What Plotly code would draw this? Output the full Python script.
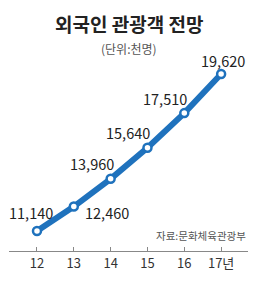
import plotly.graph_objects as go

years = [12, 13, 14, 15, 16, 17]
tick_labels = ["12", "13", "14", "15", "16", "17년"]
visitors = [11140, 12460, 13960, 15640, 17510, 19620]
value_labels = ["11,140", "12,460", "13,960", "15,640", "17,510", "19,620"]
label_pos = ["above", "right", "above-left", "above-left", "above-left", "above"]

FONT = "Noto Sans CJK KR"
BLUE = "#1f72bd"

fig = go.Figure()
fig.add_trace(go.Scatter(
    x=years, y=visitors, mode="lines+markers",
    line=dict(color=BLUE, width=6),
    marker=dict(size=8, color="white", line=dict(color=BLUE, width=2.5)),
    hoverinfo="skip", showlegend=False,
))

for x, y, t, p in zip(years, visitors, value_labels, label_pos):
    if p == "right":
        fig.add_annotation(x=x, y=y, text=t, showarrow=False, xanchor="left", yanchor="middle",
                           xshift=9, yshift=-6, font=dict(family=FONT, size=14.5, color="#222"))
    elif p == "above":
        fig.add_annotation(x=x, y=y, text=t, showarrow=False, xanchor="center", yanchor="middle",
                           xshift=-6 if x == 12 else 2, yshift=19 if x == 12 else 14,
                           font=dict(family=FONT, size=14.5, color="#222"))
    else:
        fig.add_annotation(x=x, y=y, text=t, showarrow=False, xanchor="center", yanchor="middle",
                           xshift=-19, yshift=15, font=dict(family=FONT, size=14.5, color="#222"))

fig.add_annotation(xref="paper", yref="paper", x=120 / 239, y=(281 - 23 - 30) / 201,
                   xanchor="center", yanchor="middle", text="<b>외국인 관광객 전망</b>",
                   showarrow=False, font=dict(family=FONT, size=19, color="#222"))
fig.add_annotation(xref="paper", yref="paper", x=120 / 239, y=(281 - 48 - 30) / 201,
                   xanchor="center", yanchor="middle", text="(단위:천명)", showarrow=False,
                   font=dict(family=FONT, size=12, color="#555"))
fig.add_annotation(xref="paper", yref="paper", x=1, y=(281 - 235 - 30) / 201,
                   xanchor="right", yanchor="middle", text="자료:문화체육관광부", showarrow=False,
                   font=dict(family=FONT, size=10.5, color="#555"))

fig.update_layout(
    width=260, height=281,
    margin=dict(l=9, r=12, t=50, b=30),
    paper_bgcolor="white", plot_bgcolor="white",
    xaxis=dict(range=[11.24, 17.73], tickvals=years, ticktext=tick_labels,
               showline=True, linecolor="#888", linewidth=1, ticks="inside", ticklen=4,
               tickcolor="#888", showgrid=False, zeroline=False,
               tickfont=dict(family=FONT, size=13, color="#333"), fixedrange=True),
    yaxis=dict(range=[10060, 20920], visible=False, fixedrange=True),
)

fig.write_html("out.html")
